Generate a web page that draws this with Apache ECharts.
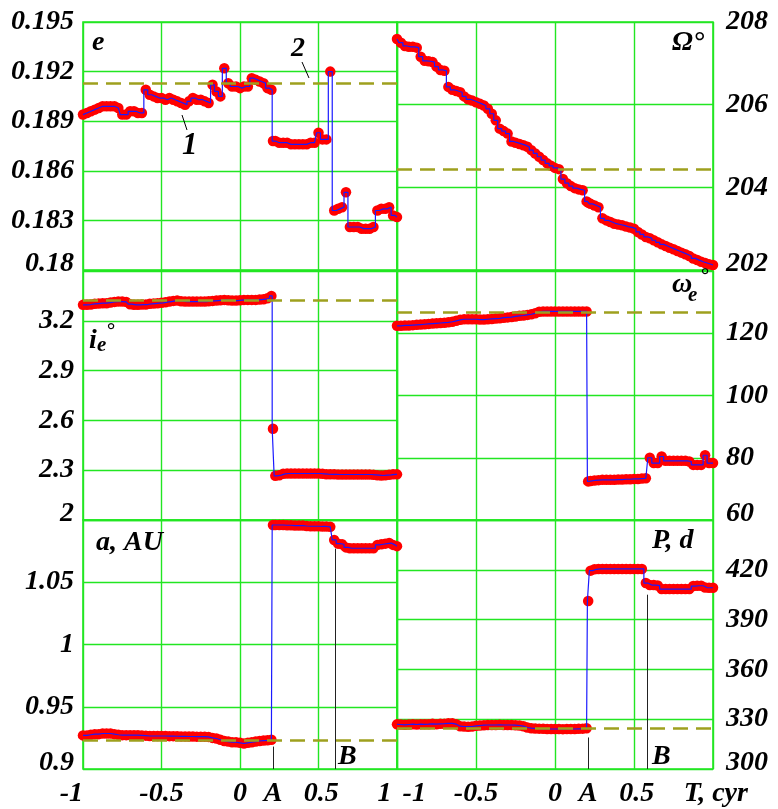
<!DOCTYPE html>
<html><head><meta charset="utf-8">
<script src="https://cdn.jsdelivr.net/npm/echarts@6/dist/echarts.min.js"></script>
<style>html,body{margin:0;padding:0;background:#fff}#c{width:778px;height:809px}</style>
</head><body><div id="c"></div>
<script>
// time samples, centuries (shared by all six panels)
const T = [
 -1,-0.975,-0.95,-0.925,-0.9,-0.875,-0.85,-0.825,-0.8,-0.775,
 -0.75,-0.725,-0.7,-0.675,-0.65,-0.625,-0.6,-0.575,-0.55,-0.525,
 -0.5,-0.475,-0.45,-0.425,-0.4,-0.375,-0.35,-0.325,-0.3,-0.275,
 -0.25,-0.225,-0.2,-0.175,-0.15,-0.125,-0.1,-0.075,-0.05,-0.025,
 0,0.025,0.05,0.075,0.1,0.125,0.15,0.175,0.2,
 0.21,
 0.225,0.25,0.275,0.3,0.325,0.35,0.375,0.4,0.425,0.45,
 0.475,0.5,0.525,0.55,0.575,0.6,0.625,0.65,0.675,0.7,
 0.725,0.75,0.775,0.8,0.825,0.85,0.875,0.9,0.925,0.95,
 0.975,1
];
// eccentricity e
const eVals = [
 0.1894,0.1895,0.1896,0.1897,0.1898,0.1899,0.1899,0.1899,0.1899,0.1898,
 0.1894,0.1894,0.1896,0.1896,0.1895,0.1895,0.1909,0.1906,0.1905,0.1904,
 0.1904,0.1903,0.1904,0.1903,0.1902,0.1901,0.1900,0.1902,0.1904,0.1903,
 0.1903,0.1902,0.1901,0.1912,0.1908,0.1905,0.1922,0.1913,0.1911,0.1911,
 0.1910,0.1911,0.1911,0.1916,0.1915,0.1914,0.1913,0.1910,0.1909,
 0.1878,
 0.1878,0.1877,0.1877,0.1877,0.1876,0.1876,0.1876,0.1876,0.1876,0.1877,
 0.1877,0.1883,0.1879,0.1879,0.1920,0.1836,0.1837,0.1838,0.1847,0.1826,
 0.1826,0.1826,0.1825,0.1825,0.1825,0.1826,0.1836,0.1837,0.1837,0.1838,
 0.1833,0.1832
];
// longitude of node Omega, deg
const nodeVals = [
 207.59,207.5,207.42,207.4,207.4,207.38,207.16,207.06,207.05,207.03,
 206.92,206.84,206.82,206.43,206.36,206.33,206.3,206.2,206.13,206.1,
 206.06,206.02,205.98,205.9,205.78,205.62,205.42,205.36,205.3,205.11,
 205.08,205.05,205.02,204.98,204.9,204.82,204.74,204.66,204.58,204.52,
 204.47,204.44,204.2,204.1,204.03,203.98,203.95,203.93,203.66,
 203.63,
 203.6,203.56,203.52,203.25,203.2,203.16,203.12,203.1,203.08,203.05,
 203.03,203.0,202.92,202.86,202.8,202.77,202.72,202.67,202.62,202.58,
 202.54,202.5,202.46,202.42,202.38,202.34,202.28,202.24,202.2,202.17,
 202.14,202.12
];
// inclination i_e, deg
const incVals = [
 3.296,3.296,3.298,3.302,3.304,3.306,3.306,3.31,3.314,3.316,
 3.316,3.314,3.3,3.296,3.296,3.298,3.298,3.302,3.304,3.306,
 3.308,3.312,3.316,3.32,3.322,3.318,3.316,3.316,3.316,3.316,
 3.316,3.316,3.318,3.32,3.322,3.324,3.326,3.324,3.322,3.322,
 3.324,3.326,3.326,3.326,3.326,3.328,3.33,3.336,3.35,
 2.55,
 2.266,2.27,2.278,2.28,2.28,2.28,2.28,2.28,2.28,2.28,
 2.28,2.28,2.278,2.276,2.275,2.275,2.274,2.274,2.274,2.274,
 2.274,2.274,2.274,2.274,2.274,2.272,2.27,2.268,2.27,2.272,
 2.275,2.275
];
// argument of perihelion omega_e, deg
const argVals = [
 122.4,122.4,122.5,122.5,122.6,122.7,122.8,122.9,123.0,123.1,
 123.2,123.3,123.4,123.5,123.7,124.0,124.3,124.5,124.5,124.5,
 124.5,124.4,124.4,124.5,124.6,124.7,124.8,125.0,125.1,125.2,
 125.4,125.6,125.7,125.9,126.1,126.4,126.9,127.0,127.0,127.0,
 127.0,127.0,127.0,127.0,127.0,127.0,127.0,127.0,127.0,
 72.4,
 72.5,72.7,72.8,72.9,72.9,72.9,72.9,73.0,73.0,73.1,
 73.1,73.2,73.2,73.3,73.4,80.0,78.3,78.3,80.4,79.0,
 79.0,79.0,79.0,79.0,79.0,78.8,77.7,77.7,77.7,80.8,
 78.3,78.3
];
// semi-major axis a, AU
const aVals = [
 0.927,0.927,0.9275,0.928,0.928,0.9285,0.9285,0.9285,0.928,0.9275,
 0.9272,0.9272,0.9272,0.9272,0.9272,0.927,0.9268,0.9265,0.9265,0.9265,
 0.9265,0.9265,0.9264,0.9264,0.9263,0.9262,0.9262,0.9261,0.9261,0.926,
 0.926,0.926,0.9258,0.925,0.9245,0.9235,0.9225,0.922,0.9215,0.9215,
 0.921,0.9205,0.921,0.9215,0.922,0.9225,0.9228,0.923,0.9235,
 1.096,
 1.096,1.096,1.096,1.0958,1.0958,1.0955,1.0955,1.0955,1.0952,1.095,
 1.095,1.095,1.0948,1.0948,1.0945,1.084,1.081,1.0805,1.078,1.0773,
 1.0773,1.0773,1.0773,1.0773,1.0773,1.0773,1.08,1.0805,1.081,1.0815,
 1.08,1.079
];
// orbital period P, days
const pVals = [
 326.9,326.8,326.6,326.8,327.0,326.8,327.0,326.9,327.0,327.2,
 327.0,327.2,327.3,327.5,327.5,327.0,325.8,325.6,325.5,325.6,
 326.0,326.2,326.4,326.5,326.5,326.5,326.6,326.5,326.5,326.5,
 326.4,326.2,325.8,325.0,324.6,324.4,324.3,324.2,324.1,324.1,
 324.1,324.1,324.0,324.1,324.1,324.1,324.2,324.3,324.5,
 401.2,
 419.5,420.3,420.5,420.5,420.5,420.5,420.5,420.5,420.5,420.5,
 420.5,420.5,420.5,420.5,412.0,410.8,410.8,410.5,408.4,408.4,
 408.4,408.4,408.4,408.4,408.4,408.4,410.2,410.4,410.4,409.3,
 409.2,409.2
];
// reference (dashed, curve 2) values
const refVals = { e:0.1913, node:204.44, inc:3.326, arg:126.8, a:0.923, p:324.4 };
// epochs A and B
const epochA = 0.21, epochBLeft = 0.605, epochBRight = 0.585;
const aLineTops = { A:0.918, B:1.077 };
const pLineTops = { A:319, B:405 };
const xTickLabelsLeft = [-1,-0.5,0,epochA,0.5,1];
const xTickLabelsRight = [-1,-0.5,0,epochA,0.5,1];

const FONT = 'Liberation Serif';
const GREEN = '#22e622';
const OLIVE = '#9ea01e';
const FS = 28;
const txt = {fontFamily:FONT, fontStyle:'italic', fontWeight:'bold', fontSize:FS, color:'#000'};
const richLo = {lo:Object.assign({padding:[0,0,13,0]}, txt)};

const colX = [{left:83,width:314},{left:397,width:316}];
const rowY = [{top:22,height:248},{top:271,height:249},{top:520,height:249}];

const panels = [
 {vals:eVals,    ref:refVals.e,    col:0,row:0,min:0.18,max:0.195,step:0.003,hideTop:false},
 {vals:nodeVals, ref:refVals.node, col:1,row:0,min:202, max:208,  step:2,    hideTop:false},
 {vals:incVals,  ref:refVals.inc,  col:0,row:1,min:2,   max:3.5,  step:0.3,  hideTop:true},
 {vals:argVals,  ref:refVals.arg,  col:1,row:1,min:60,  max:140,  step:20,   hideTop:true},
 {vals:aVals,    ref:refVals.a,    col:0,row:2,min:0.9, max:1.1,  step:0.05, hideTop:true, id:'a'},
 {vals:pVals,    ref:refVals.p,    col:1,row:2,min:300, max:450,  step:30,   hideTop:true, id:'p'}
];

function xLabel(v, col){
  if (Math.abs(v-epochA)<1e-9) return 'A';
  if (col===1 && v===1) return '\u2009T, cyr';
  if (col===0 && v===1) return '1\u2009';
  if (col===1 && v===-1) return '\u2009-1';
  if (v===0.5) return '\u2009' + '0.5';
  return String(v);
}

const grids=[], xAxes=[], yAxes=[], series=[];
panels.forEach((p,i)=>{
  grids.push({left:colX[p.col].left, width:colX[p.col].width, top:rowY[p.row].top, height:rowY[p.row].height,
    show:true, borderColor:GREEN, borderWidth:1.6, backgroundColor:'transparent'});
  const bottom = p.row===2;
  xAxes.push({type:'value', gridIndex:i, min:-1, max:1, interval:0.5,
    axisLine:{show:false}, axisTick:{show:false},
    splitLine:{show:true, lineStyle:{color:GREEN, width:1.4}},
    axisLabel: bottom ? Object.assign({show:true, margin:11,
      customValues: p.col===0 ? xTickLabelsLeft : xTickLabelsRight,
      alignMinLabel: p.col===1 ? 'left' : 'right',
      alignMaxLabel: p.col===0 ? 'right' : 'center',
      formatter: v => xLabel(v, p.col)
    }, txt) : {show:false}
  });
  yAxes.push({type:'value', gridIndex:i, min:p.min, max:p.max, interval:p.step,
    position: p.col===0 ? 'left':'right',
    axisLine:{show:false}, axisTick:{show:false},
    splitLine:{show:true, lineStyle:{color:GREEN, width:1.4}},
    axisLabel: Object.assign({show:true, margin: p.col===0 ? 9 : 13, showMaxLabel: !p.hideTop,
      align: p.col===0 ? 'right':'left', rich: richLo,
      formatter: v => { const s = String(+v.toFixed(4)); return Math.abs(v-p.min)<1e-9 ? '{lo|'+s+'}' : s; }}, txt)
  });
  const pts = T.map((t,k)=>[t, p.vals[k]]);
  series.push({type:'scatter', xAxisIndex:i, yAxisIndex:i, data:pts, symbol:'circle', symbolSize:10.5,
    itemStyle:{color:'#ff0000', opacity:1}, z:2, silent:true});
  const mlData = [{yAxis:p.ref, lineStyle:{color:OLIVE, type:[15,8], width:2.6}}];
  if (p.id==='a'){
    mlData.push([{coord:[epochA,p.min], lineStyle:{color:'#222', type:'solid', width:1}},{coord:[epochA,aLineTops.A]}]);
    mlData.push([{coord:[epochBLeft,p.min], lineStyle:{color:'#222', type:'solid', width:1}},{coord:[epochBLeft,aLineTops.B]}]);
  }
  if (p.id==='p'){
    mlData.push([{coord:[epochA,p.min], lineStyle:{color:'#222', type:'solid', width:1}},{coord:[epochA,pLineTops.A]}]);
    mlData.push([{coord:[epochBRight,p.min], lineStyle:{color:'#222', type:'solid', width:1}},{coord:[epochBRight,pLineTops.B]}]);
  }
  series.push({type:'line', xAxisIndex:i, yAxisIndex:i, data:pts, step:'middle', showSymbol:false,
    lineStyle:{color:'#1a1aff', width:1.2}, z:3, silent:true,
    markLine:{silent:true, symbol:'none', precision:8, label:{show:false}, animation:false, data:mlData}});
});

function T2(x,y,s,extra){ return {type:'text', left:x, top:y, z:10, silent:true,
  style:Object.assign({text:s, font:`italic bold ${(extra&&extra.size)||FS}px "${FONT}"`, fill:'#000'}, extra||{})}; }

const graphic = [
  T2(92,29,'e'),
  T2(672,29,'Ω°'),
  T2(89,327,'i'), T2(97,335,'e',{size:21}), T2(106,321,'°',{size:21}),
  T2(672,271,'ω'), T2(688,285,'e',{size:21}), T2(700,266,'°',{size:21}),
  T2(96,529,'a, AU'),
  T2(652,527,'P, d'),
  T2(182,130,'1',{size:31}),
  T2(291,35,'2'),
  T2(338,743,'B'),
  T2(652,743,'B'),
  {type:'line', silent:true, z:10, shape:{x1:182,y1:115,x2:187,y2:130}, style:{stroke:'#000', lineWidth:1}},
  {type:'line', silent:true, z:10, shape:{x1:302,y1:62,x2:309,y2:78}, style:{stroke:'#000', lineWidth:1}}
];

const chart = echarts.init(document.getElementById('c'));
chart.setOption({animation:false, backgroundColor:'#fff', grid:grids, xAxis:xAxes, yAxis:yAxes, series, graphic});
</script></body></html>
